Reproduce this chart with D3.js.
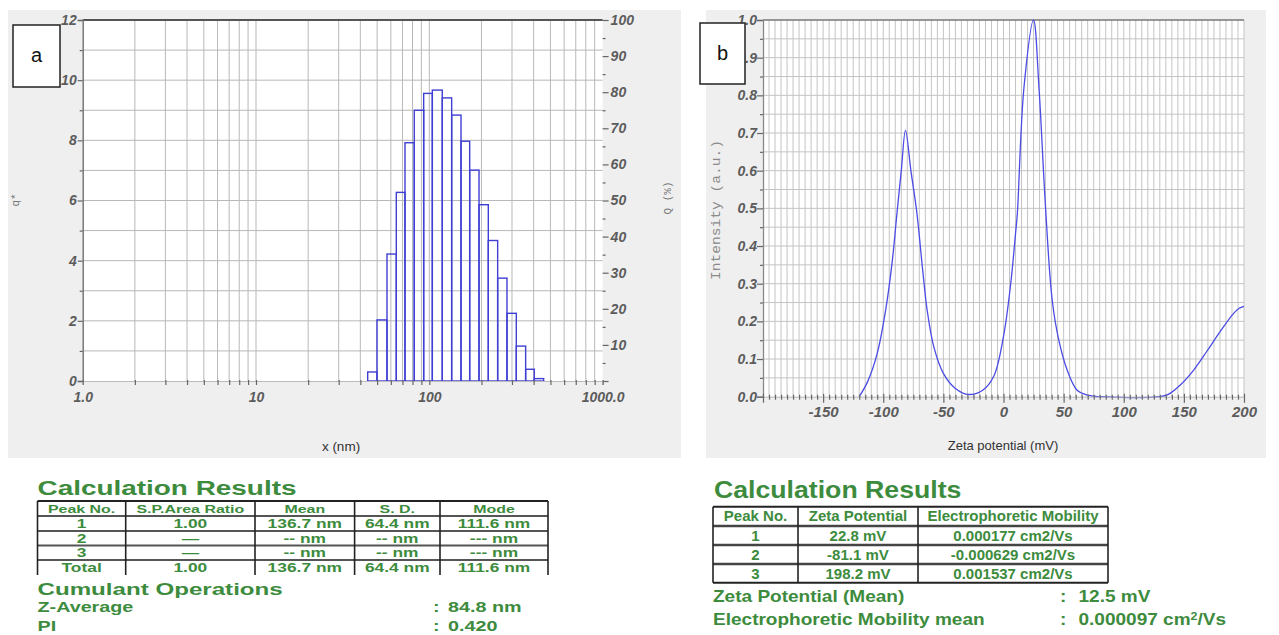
<!DOCTYPE html>
<html>
<head>
<meta charset="utf-8">
<script src="https://cdn.jsdelivr.net/npm/d3@7"></script>
<style>
  body { margin: 0; background: #fff; }
  svg { display: block; font-family: "Liberation Sans", Arial, sans-serif; }
</style>
</head>
<body>
<svg id="chart" width="1279" height="635"></svg>
<script>
// (a) particle size distribution: bin edges (nm) and q* per bin
const binEdges = [44.1, 49.9, 57.0, 64.5, 72.4, 81.9, 92.8, 104.1, 118.8, 134.6, 152.4, 171.0, 193.6, 219, 248, 280.7, 317.7, 359.7, 403.4, 457];
const binQ = [0.3, 2.03, 4.22, 6.27, 7.92, 9.0, 9.56, 9.67, 9.41, 8.84, 7.97, 7.01, 5.86, 4.67, 3.42, 2.25, 1.16, 0.39, 0.08];
const sizeTickLabels = { 1: "1.0", 10: "10", 100: "100", 1000: "1000.0" };

// (b) zeta potential distribution
const zetaMV = [-120, -113, -105, -98, -92.5, -88.5, -85, -81.5, -77, -72, -67.5, -63.5, -58, -50, -40, -29, -17, -8, 0, 6, 10, 11.5, 17, 25, 29.5, 35, 40.5, 46, 53, 61, 70, 80, 130, 137, 147, 158, 169, 180, 191, 196, 200];
const zetaIntensity = [0, 0.04, 0.115, 0.23, 0.36, 0.49, 0.6, 0.707, 0.6, 0.487, 0.345, 0.23, 0.133, 0.062, 0.022, 0.006, 0.018, 0.055, 0.16, 0.3, 0.433, 0.486, 0.82, 1.0, 0.82, 0.5, 0.256, 0.15, 0.07, 0.018, 0.004, 0, 0, 0.006, 0.031, 0.07, 0.12, 0.172, 0.22, 0.235, 0.24];

// result tables
const tableAHead = ["Peak No.", "S.P.Area Ratio", "Mean", "S. D.", "Mode"];
const tableARows = [
    ["1", "1.00", "136.7 nm", "64.4 nm", "111.6 nm"],
    ["2", "\u2014", "-- nm", "-- nm", "--- nm"],
    ["3", "\u2014", "-- nm", "-- nm", "--- nm"],
    ["Total", "1.00", "136.7 nm", "64.4 nm", "111.6 nm"]
];
const cumulantA = [["Z-Average", "84.8 nm"], ["PI", "0.420"]];

const tableBHead = ["Peak No.", "Zeta Potential", "Electrophoretic Mobility"];
const tableBRows = [
    ["1", "22.8 mV", "0.000177 cm2/Vs"],
    ["2", "-81.1 mV", "-0.000629 cm2/Vs"],
    ["3", "198.2 mV", "0.001537 cm2/Vs"]
];
const meanB = [["Zeta Potential (Mean)", "12.5 mV"], ["Electrophoretic Mobility mean", "0.000097 cm", "2", "/Vs"]];

const svg = d3.select("#chart");
const green = "#3d8b3d";
const font = "Liberation Sans, Arial, sans-serif";

function styleAxis(ax, size) {
    ax.attr("font-family", font).attr("font-size", size);
    ax.selectAll(".tick text")
        .attr("font-style", "italic")
        .attr("font-weight", "bold")
        .attr("fill", "#5c5c5c");
    ax.selectAll(".tick line").attr("stroke", "#666").attr("stroke-width", 1.2);
}

// ---------------- panel a ----------------
const xA = d3.scaleLog().domain([1, 1000]).range([82.7, 602.6]);
const yA = d3.scaleLinear().domain([0, 12]).range([381, 20]);
const yQ = d3.scaleLinear().domain([0, 100]).range([381, 20]);

const gA = svg.append("g");
gA.append("rect").attr("x", 8).attr("y", 10).attr("width", 673).attr("height", 448).attr("fill", "#efefef");
gA.append("rect")
    .attr("x", xA(1)).attr("y", yA(12))
    .attr("width", xA(1000) - xA(1)).attr("height", yA(0) - yA(12))
    .attr("fill", "#fff");

const logTicks = xA.ticks();
gA.append("g").selectAll("line")
    .data(logTicks.filter(d => d > 1 && d < 1000))
    .join("line")
    .attr("x1", d => xA(d)).attr("x2", d => xA(d))
    .attr("y1", yA(12)).attr("y2", yA(0))
    .attr("stroke", "#b8b8b8");
gA.append("g").selectAll("line")
    .data(d3.range(1, 12))
    .join("line")
    .attr("x1", xA(1)).attr("x2", xA(1000))
    .attr("y1", d => yA(d)).attr("y2", d => yA(d))
    .attr("stroke", "#b8b8b8");

gA.append("line")
    .attr("x1", xA(1)).attr("x2", xA(1000))
    .attr("y1", yA(12)).attr("y2", yA(12))
    .attr("stroke", "#555").attr("stroke-width", 2);

// histogram bars, one outlined box per bin
gA.append("g").selectAll("rect")
    .data(binQ)
    .join("rect")
    .attr("x", (d, i) => xA(binEdges[i]))
    .attr("width", (d, i) => xA(binEdges[i + 1]) - xA(binEdges[i]))
    .attr("y", d => yA(d))
    .attr("height", d => yA(0) - yA(d))
    .attr("fill", "none")
    .attr("stroke", "#3f3fd4")
    .attr("stroke-width", 1.4);

const axLeftA = gA.append("g")
    .attr("transform", `translate(${xA(1)},0)`)
    .call(d3.axisLeft(yA).tickValues(d3.range(0, 13)).tickSize(5).tickPadding(1)
        .tickFormat(d => d % 2 === 0 ? d : ""));
styleAxis(axLeftA, 14);
axLeftA.select(".domain").attr("stroke", "#777").attr("stroke-width", 1.5);
axLeftA.selectAll(".tick line").filter(d => d % 2 === 1).attr("x2", -3);

const axQ = gA.append("g")
    .attr("transform", `translate(${xA(1000)},0)`)
    .call(d3.axisRight(yQ).tickValues(d3.range(0, 101, 5)).tickSize(6).tickPadding(2)
        .tickFormat(d => d % 10 === 0 && d > 0 ? d : ""));
styleAxis(axQ, 14);
axQ.select(".domain").remove();
axQ.selectAll(".tick line").filter(d => d % 10 !== 0).attr("x2", 3);

const axBottomA = gA.append("g")
    .attr("transform", `translate(0,${yA(0)})`)
    .call(d3.axisBottom(xA).tickValues(logTicks).tickSize(4).tickPadding(7)
        .tickFormat(d => sizeTickLabels[d] || ""));
styleAxis(axBottomA, 14);
axBottomA.select(".domain").attr("stroke", "#bbb");
axBottomA.selectAll(".tick line").attr("y1", -1);

gA.append("text")
    .attr("x", 341).attr("y", 451)
    .attr("text-anchor", "middle")
    .attr("font-size", 13.5).attr("fill", "#333")
    .text("x (nm)");
gA.append("text")
    .attr("transform", "translate(19,200) rotate(-90)")
    .attr("text-anchor", "middle")
    .attr("font-family", "Liberation Mono, monospace")
    .attr("font-size", 11).attr("fill", "#777")
    .text("q*");
gA.append("text")
    .attr("transform", "translate(671,198) rotate(-90)")
    .attr("text-anchor", "middle")
    .attr("font-family", "Liberation Mono, monospace")
    .attr("font-size", 11).attr("fill", "#777")
    .text("Q (%)");

gA.append("rect").attr("x", 13).attr("y", 25).attr("width", 47).attr("height", 62)
    .attr("fill", "#fff").attr("stroke", "#222").attr("stroke-width", 1.5);
gA.append("text").attr("x", 36.5).attr("y", 62).attr("text-anchor", "middle")
    .attr("font-size", 20).attr("fill", "#111").text("a");

// ---------------- panel b ----------------
const xB = d3.scaleLinear().domain([-200, 200]).range([763, 1244]);
const yB = d3.scaleLinear().domain([0, 1]).range([396.7, 20]);

const gB = svg.append("g");
gB.append("rect").attr("x", 706).attr("y", 10).attr("width", 560).attr("height", 448).attr("fill", "#efefef");
gB.append("rect")
    .attr("x", xB(-200)).attr("y", yB(1))
    .attr("width", xB(200) - xB(-200)).attr("height", yB(0) - yB(1))
    .attr("fill", "#fff");

gB.append("g").selectAll("line")
    .data(d3.range(-195, 201, 5))
    .join("line")
    .attr("x1", d => xB(d)).attr("x2", d => xB(d))
    .attr("y1", yB(1)).attr("y2", yB(0))
    .attr("stroke", "#c4c4c4");
gB.append("g").selectAll("line")
    .data(d3.range(1, 20).map(i => i / 20))
    .join("line")
    .attr("x1", xB(-200)).attr("x2", xB(200))
    .attr("y1", d => yB(d)).attr("y2", d => yB(d))
    .attr("stroke", "#c4c4c4");
gB.append("line")
    .attr("x1", xB(-200)).attr("x2", xB(200))
    .attr("y1", yB(1)).attr("y2", yB(1))
    .attr("stroke", "#777").attr("stroke-width", 1.5);

const zetaLine = d3.line()
    .x((d, i) => xB(zetaMV[i]))
    .y(d => yB(Math.max(0, d)))
    .curve(d3.curveCatmullRom.alpha(0.5));
gB.append("path")
    .attr("d", zetaLine(zetaIntensity))
    .attr("fill", "none")
    .attr("stroke", "#4b4be6")
    .attr("stroke-width", 1.3)
    .attr("stroke-linejoin", "round");

const axLeftB = gB.append("g")
    .attr("transform", `translate(${xB(-200)},0)`)
    .call(d3.axisLeft(yB).tickValues(d3.range(0, 21).map(i => i / 20)).tickSize(6).tickPadding(0)
        .tickFormat(d => Math.round(d * 20) % 2 === 0 ? d3.format(".1f")(d) : ""));
styleAxis(axLeftB, 14);
axLeftB.select(".domain").attr("stroke", "#888").attr("stroke-width", 1.3);
axLeftB.selectAll(".tick line").filter(d => Math.round(d * 20) % 2 === 1).attr("x2", -3);

const axBottomB = gB.append("g")
    .attr("transform", `translate(0,${yB(0)})`)
    .call(d3.axisBottom(xB).tickValues(d3.range(-200, 201, 5)).tickSize(6).tickPadding(4)
        .tickFormat(d => d % 50 === 0 && d > -200 ? d : ""));
styleAxis(axBottomB, 15);
axBottomB.select(".domain").attr("stroke", "#bbb");
axBottomB.selectAll(".tick line").attr("y1", -2).attr("y2", 3);
axBottomB.selectAll(".tick line").filter(d => d % 50 === 0).attr("y1", -3).attr("y2", 6);

gB.append("text")
    .attr("x", 1003).attr("y", 450)
    .attr("text-anchor", "middle")
    .attr("font-size", 13).attr("fill", "#333")
    .text("Zeta potential (mV)");
gB.append("text")
    .attr("transform", "translate(720,210) rotate(-90)")
    .attr("text-anchor", "middle")
    .attr("font-family", "Liberation Mono, monospace")
    .attr("font-size", 13)
    .attr("textLength", 140).attr("lengthAdjust", "spacingAndGlyphs")
    .attr("fill", "#8a8a8a")
    .text("Intensity (a.u.)");

gB.append("rect").attr("x", 700).attr("y", 23).attr("width", 45).attr("height", 61)
    .attr("fill", "#fff").attr("stroke", "#222").attr("stroke-width", 1.5);
gB.append("text").attr("x", 722.5).attr("y", 60).attr("text-anchor", "middle")
    .attr("font-size", 20).attr("fill", "#111").text("b");

// ---------------- result tables ----------------
function greenText(parent, x, y, str, size, sx, anchor = "start") {
    return parent.append("text")
        .attr("transform", `translate(${x},${y}) scale(${sx},1)`)
        .attr("text-anchor", anchor)
        .attr("font-size", size)
        .attr("font-weight", "bold")
        .attr("fill", green)
        .text(str);
}

function rule(parent, x1, y1, x2, y2, w, c) {
    parent.append("line")
        .attr("x1", x1).attr("y1", y1).attr("x2", x2).attr("y2", y2)
        .attr("stroke", c).attr("stroke-width", w);
}

// table a
const tA = svg.append("g");
greenText(tA, 37.5, 495, "Calculation Results", 21, 1.33);
const colA = [37.5, 125.7, 255, 354.6, 440, 548];
const rowA = [501, 516, 531, 545.5, 560, 575];
rowA.slice(0, 5).forEach((y, i) => rule(tA, colA[0], y, colA[5], y, i === 0 ? 2 : 2.2, i === 0 ? "#222" : "#555"));
colA.forEach(x => rule(tA, x, rowA[0], x, rowA[5], 1.6, "#222"));
[tableAHead, ...tableARows].forEach((row, r) => {
    row.forEach((cell, c) => {
        greenText(tA, (colA[c] + colA[c + 1]) / 2, rowA[r] + 11.5, cell, r === 0 ? 11 : 12, 1.45, "middle");
    });
});
greenText(tA, 37.5, 595, "Cumulant Operations", 17, 1.42);
cumulantA.forEach((d, i) => {
    const y = 612 + i * 18.5;
    greenText(tA, 37.5, y, d[0], 14, 1.41);
    greenText(tA, 433, y, ":", 14, 1.41);
    greenText(tA, 448, y, d[1], 14, 1.41);
});

// table b
const tB = svg.append("g");
greenText(tB, 714, 498, "Calculation Results", 23, 1.16);
const colB = [713, 798, 918, 1108];
const rowB = [506.7, 526, 545, 564, 582.7];
rowB.forEach((y, i) => rule(tB, colB[0], y, colB[3], y, i === 0 || i === 4 ? 2 : 2.6, i === 0 || i === 4 ? "#222" : "#444"));
colB.forEach(x => rule(tB, x, rowB[0], x, rowB[4], 1.6, "#222"));
[tableBHead, ...tableBRows].forEach((row, r) => {
    row.forEach((cell, c) => {
        greenText(tB, (colB[c] + colB[c + 1]) / 2, rowB[r] + 14.5, cell, 15.5, 0.97, "middle");
    });
});
meanB.forEach((d, i) => {
    const y = 601.7 + i * 23.3;
    greenText(tB, 713, y, d[0], 17, 1.12);
    greenText(tB, 1060, y, ":", 17, 1.12);
    const v = greenText(tB, 1078.5, y, d[1], 17, 1.12);
    if (d.length > 2) {
        v.append("tspan").attr("font-size", 11).attr("dy", -5).text(d[2]);
        v.append("tspan").attr("dy", 5).text(d[3]);
    }
});
</script>
</body>
</html>
